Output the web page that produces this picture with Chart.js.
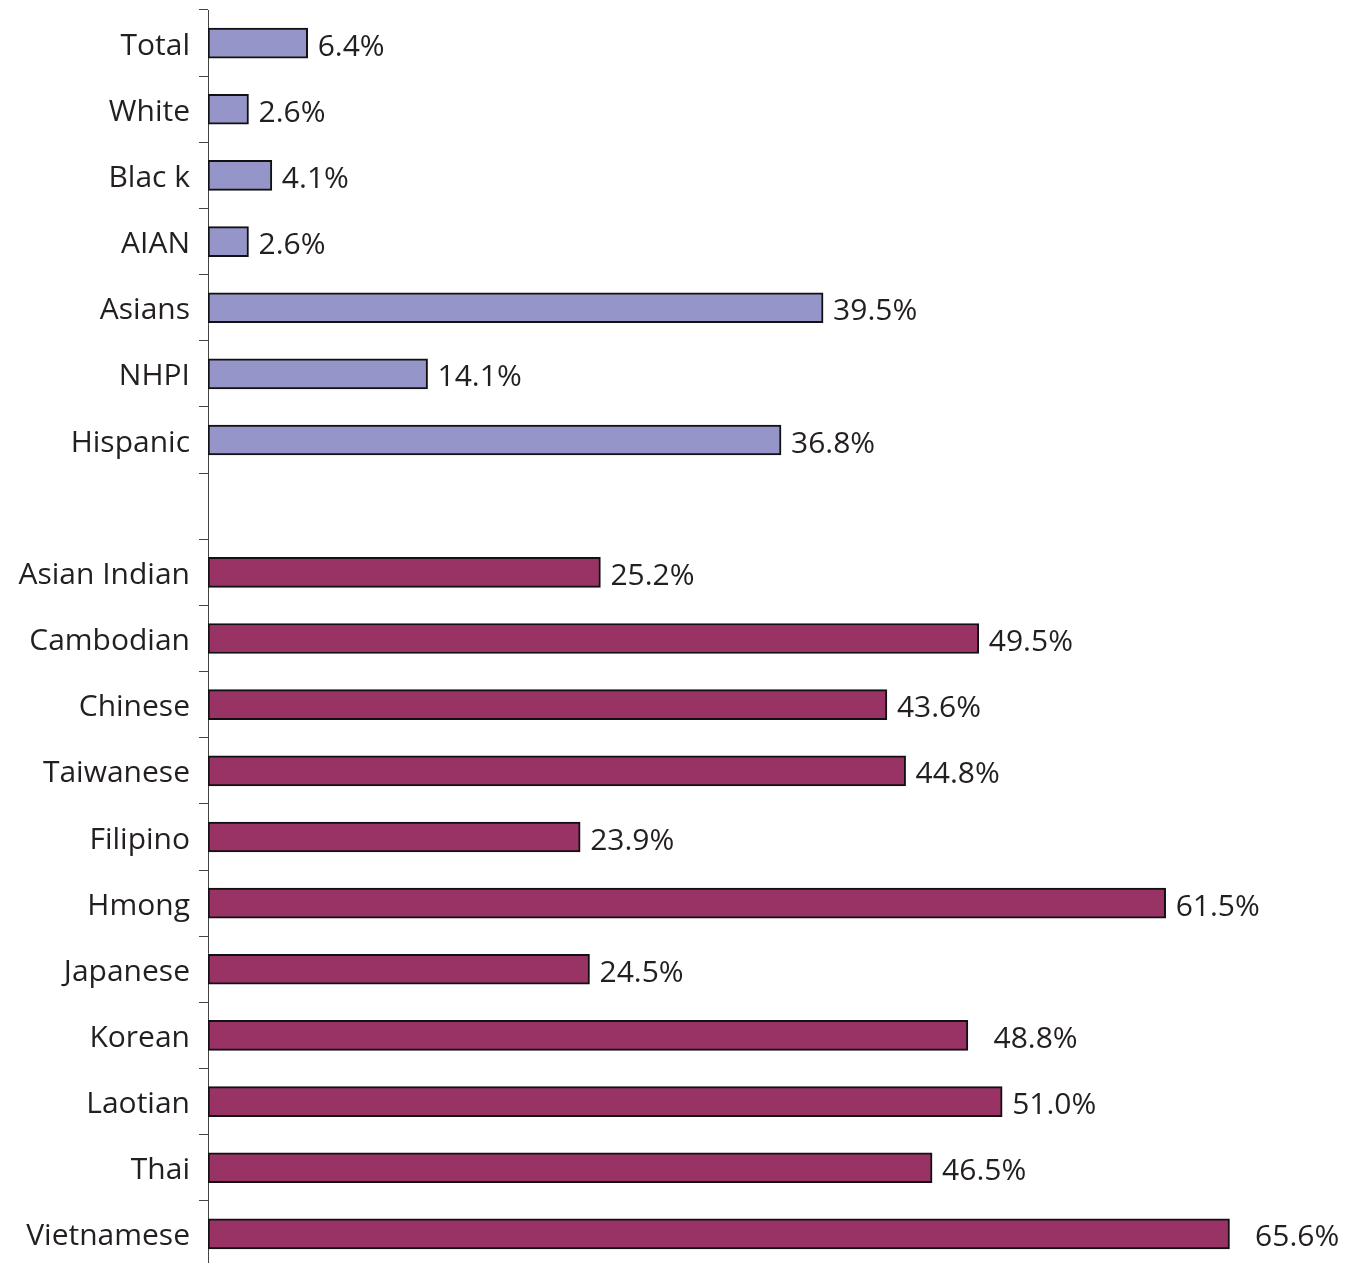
<!DOCTYPE html>
<html>
<head>
<meta charset="utf-8">
<script src="https://cdn.jsdelivr.net/npm/chart.js@4"></script>
<style>
  html, body { margin: 0; padding: 0; background: #fff; overflow: hidden; }
  #wrap { position: relative; width: 1357px; height: 1272px; }
</style>
</head>
<body>
<div id="wrap"><canvas id="barChart"></canvas></div>
<script>
// ---------- Data ----------
const overallLabels = ["Total", "White", "Blac k", "AIAN", "Asians", "NHPI", "Hispanic"];
const overallValues = [6.4, 2.6, 4.1, 2.6, 39.5, 14.1, 36.8];
const overallText = ["6.4%", "2.6%", "4.1%", "2.6%", "39.5%", "14.1%", "36.8%"];

const asianLabels = ["Asian Indian", "Cambodian", "Chinese", "Taiwanese", "Filipino", "Hmong",
  "Japanese", "Korean", "Laotian", "Thai", "Vietnamese"];
const asianValues = [25.2, 49.5, 43.6, 44.8, 23.9, 61.5, 24.5, 48.8, 51.0, 46.5, 65.6];
const asianText = ["25.2%", "49.5%", "43.6%", "44.8%", "23.9%", "61.5%", "24.5%",
  "  48.8%", "51.0%", "46.5%", "  65.6%"];

// ---------- Build ----------
const labels = [...overallLabels, "", ...asianLabels];
const gap = asianLabels.map(() => null);
const overallData = [...overallValues, null, ...gap];
const asianData = [...overallLabels.map(() => null), null, ...asianValues];
const valueText = [...overallText, "", ...asianText];

const FONT = "'Open Sans', sans-serif";
const INK = "#231f20";

// draws the percentage next to each bar end
const valueLabels = {
  id: "valueLabels",
  afterDatasetsDraw(chart) {
    const ctx = chart.ctx;
    ctx.save();
    ctx.font = "30px " + FONT;
    ctx.fillStyle = INK;
    ctx.textAlign = "left";
    ctx.textBaseline = "middle";
    chart.data.datasets.forEach((ds, di) => {
      chart.getDatasetMeta(di).data.forEach((bar, i) => {
        if (ds.data[i] == null) return;
        ctx.fillText(valueText[i], bar.x + 10, bar.y + 4);
      });
    });
    ctx.restore();
  },
};

const ctx = document.getElementById("barChart").getContext("2d");
new Chart(ctx, {
  type: "bar",
  data: {
    labels,
    datasets: [
      {
        data: overallData,
        backgroundColor: "#9595c9",
        borderColor: "#111",
        borderWidth: 2,
        borderSkipped: false,
        barThickness: 30,
        grouped: false,
      },
      {
        data: asianData,
        backgroundColor: "#993366",
        borderColor: "#111",
        borderWidth: 2,
        borderSkipped: false,
        barThickness: 30,
        grouped: false,
      },
    ],
  },
  options: {
    indexAxis: "y",
    responsive: true,
    maintainAspectRatio: false,
    animation: false,
    layout: { padding: { top: 10, bottom: 5, right: 59, left: 0 } },
    plugins: {
      legend: { display: false },
      tooltip: { enabled: false },
      title: { display: false },
    },
    scales: {
      x: {
        display: false,
        min: 0,
        max: 70,
      },
      y: {
        afterFit: (scale) => {
          scale.width = 208;
          scale.paddingTop = 0;
          scale.paddingBottom = 0;
        },
        border: { display: true, color: "#444", width: 1 },
        grid: {
          display: true,
          drawOnChartArea: false,
          drawTicks: true,
          tickLength: 9,
          color: "#444",
          lineWidth: 1,
        },
        ticks: {
          autoSkip: false,
          padding: 9,
          labelOffset: 3,
          color: INK,
          font: { family: FONT, size: 30 },
        },
      },
    },
  },
  plugins: [valueLabels],
});
</script>
</body>
</html>
